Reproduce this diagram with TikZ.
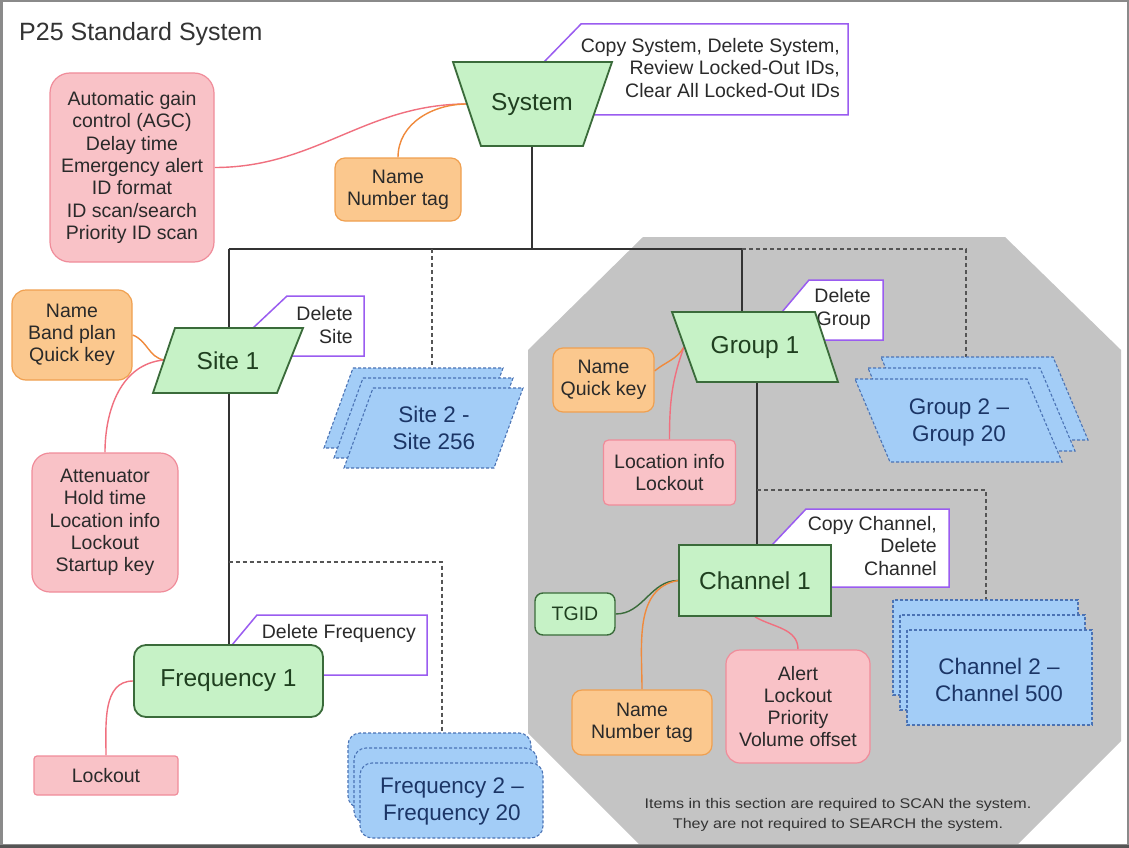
\documentclass[tikz,border=0pt]{standalone}
\usepackage{fontspec}
\setmainfont{Liberation Sans}
\newfontfamily\widefont[FakeStretch=1.15]{Liberation Sans}
\pgfdeclarelayer{back}
\pgfdeclarelayer{lines}
\pgfsetlayers{back,lines,main}
\definecolor{gfill}{HTML}{C6F2C6}
\definecolor{gline}{HTML}{3A6B3A}
\definecolor{gtext}{HTML}{1F3F1F}
\definecolor{pfill}{HTML}{F9C2C7}
\definecolor{pline}{HTML}{F08C9A}
\definecolor{plink}{HTML}{F0707F}
\definecolor{ofill}{HTML}{FBC88E}
\definecolor{oline}{HTML}{F0A050}
\definecolor{olink}{HTML}{F08A3C}
\definecolor{bfill}{HTML}{A3CDF7}
\definecolor{bline}{HTML}{4B73B5}
\definecolor{btext}{HTML}{1B3566}
\definecolor{purp}{HTML}{9A5CF0}
\definecolor{grayarea}{RGB}{196,196,196}
\definecolor{treec}{HTML}{333333}
\definecolor{dashc}{HTML}{555555}
\definecolor{txt}{HTML}{2A2A2A}
\definecolor{framec}{HTML}{8A8A8A}
\tikzset{
  attr/.style={draw, line width=1.2pt, inner sep=0pt, align=center, text=txt,
    font=\fontsize{19.5}{22.3}\selectfont},
  pinkbox/.style={attr, fill=pfill, draw=pline},
  orangebox/.style={attr, fill=ofill, draw=oline},
  greenshape/.style={draw=gline, fill=gfill, line width=1.8pt},
  greenbox/.style={draw=gline, fill=gfill, line width=1.8pt, inner sep=0pt, text=gtext},
  maintext/.style={font=\fontsize{24.5}{28}\selectfont, text=gtext, inner sep=0pt},
  stacktext/.style={font=\fontsize{22.5}{27}\selectfont, text=btext, align=center, inner sep=0pt},
  notetext/.style={font=\fontsize{19.5}{22.3}\selectfont, align=right, anchor=east, text=txt, inner sep=0pt},
  notebox/.style={draw=purp, fill=white, line width=1.5pt, line join=miter},
  bluestack/.style={draw=bline, fill=bfill, line width=1.1pt, dash pattern=on 3pt off 2pt},
  tree/.style={draw=treec, line width=2pt},
  branch/.style={draw=dashc, line width=1.2pt, dash pattern=on 4pt off 3pt},
  link/.style={line width=1.4pt},
}
\begin{document}
\begin{tikzpicture}[x=1pt,y=-1pt]
\useasboundingbox (0,0) rectangle (1129,848);

% ---------- background and gray section ----------
\begin{pgfonlayer}{back}
\fill[white] (0,0) rectangle (1129,848);
\fill[grayarea] (643,237) -- (1005,237) -- (1121,350) -- (1121,741) -- (1017,845)
  -- (640,845) -- (528,733) -- (528,350) -- cycle;
\end{pgfonlayer}

% ---------- title ----------
\node[anchor=west, inner sep=0pt, font=\fontsize{25}{30}\selectfont, text=treec] (title) at (19,34) {P25 Standard System};

% ---------- green main shapes ----------
\draw[greenshape] (453,62) -- (612,62) -- (583,146) -- (481,146) -- cycle;
\node[maintext] (system) at (532,104) {System};
\coordinate (sysL) at (467,104);
\coordinate (sysB) at (532,146);

\draw[greenshape] (175,328) -- (303,328) -- (277,393) -- (153,393) -- cycle;
\node[maintext] (site1) at (228,361) {Site 1};
\coordinate (siteT) at (228.5,328);
\coordinate (siteB) at (228.5,393);
\coordinate (siteL) at (164,360);

\draw[greenshape] (672,312) -- (815,312) -- (838,382) -- (697,382) -- cycle;
\node[maintext] (group1) at (755,347) {Group 1};
\coordinate (groupT) at (742,312);
\coordinate (groupB) at (757,382);
\coordinate (groupL) at (684,347);

\node[greenbox, minimum width=152pt, minimum height=71pt, font=\fontsize{24.5}{28}\selectfont] (channel1) at (755,580.5) {Channel 1};
\node[greenbox, rounded corners=12pt, minimum width=189pt, minimum height=72pt, font=\fontsize{24.5}{28}\selectfont] (freq1) at (228.5,681) {Frequency 1};
\node[greenbox, line width=1.4pt, rounded corners=8pt, minimum width=80pt, minimum height=42pt, font=\fontsize{19.5}{22}\selectfont] (tgid) at (575,614) {TGID};

% ---------- blue stacks ----------
\foreach \k in {0,1,2} {
  \draw[bluestack] ({353+10*\k},{368+10*\k}) -- ++(150,0) -- ++(-29,80) -- ++(-150,0) -- cycle;
}
\node[stacktext] (sitestack) at (434,428) {Site 2 -\\Site 256};
\coordinate (sitestackT) at (432,368);

\foreach \k in {0,1,2} {
  \draw[bluestack] ({881-13*\k},{357+11*\k}) -- ++(172,0) -- ++(35,83) -- ++(-172,0) -- cycle;
}
\node[stacktext] (groupstack) at (959,422) {Group 2 --\\Group 20};
\coordinate (groupstackT) at (966,357);

\foreach \k in {0,1,2} {
  \draw[bluestack] ({893+7*\k},{600+15*\k}) rectangle ++(185,95);
}
\node[stacktext] (chanstack) at (999,680) {Channel 2 --\\Channel 500};
\coordinate (chanstackT) at (986,600);

\foreach \k in {0,1,2} {
  \draw[bluestack, rounded corners=12pt] ({348+6*\k},{733+15*\k}) rectangle ++(183,75);
}
\node[stacktext] (freqstack) at (452,801) {Frequency 2 --\\Frequency 20};
\coordinate (freqstackT) at (442,733);

% ---------- attribute boxes ----------
\node[pinkbox, minimum width=164pt, minimum height=189pt, rounded corners=20pt] (sysopt) at (132,167.5)
  {Automatic gain\\control (AGC)\\Delay time\\Emergency alert\\ID format\\ID scan/search\\Priority ID scan};
\node[orangebox, minimum width=126pt, minimum height=63pt, rounded corners=10pt] (sysname) at (398,189.5) {Name\\Number tag};
\node[orangebox, minimum width=120pt, minimum height=90pt, rounded corners=14pt] (siteopt1) at (72,335) {Name\\Band plan\\Quick key};
\node[pinkbox, minimum width=146pt, minimum height=139pt, rounded corners=18pt] (siteopt2) at (105,522.5) {Attenuator\\Hold time\\Location info\\Lockout\\Startup key};
\node[pinkbox, minimum width=144pt, minimum height=39pt, rounded corners=3pt] (freqopt) at (106,775.5) {Lockout};
\node[orangebox, minimum width=101pt, minimum height=64pt, rounded corners=10pt] (groupopt1) at (603.5,380) {Name\\Quick key};
\node[pinkbox, minimum width=132pt, minimum height=65pt, rounded corners=5pt] (groupopt2) at (669.5,472.5) {Location info\\Lockout};
\node[orangebox, minimum width=140pt, minimum height=65pt, rounded corners=10pt] (chanopt1) at (642,722.5) {Name\\Number tag};
\node[pinkbox, minimum width=144pt, minimum height=113pt, rounded corners=14pt] (chanopt2) at (798,706.5) {Alert\\Lockout\\Priority\\Volume offset};

% ---------- bottom note ----------
\node[inner sep=0pt, align=center, text=treec, font=\widefont\fontsize{14}{20}\selectfont] (scannote) at (838,815)
  {Items in this section are required to SCAN the system.\\They are not required to SEARCH the system.};

% ---------- tree lines, connectors, notes ----------
\begin{pgfonlayer}{lines}
\coordinate (j0) at (532,249);
\coordinate (jL) at (228.5,249);
\coordinate (jR) at (742,249);
\coordinate (jS) at (432,249);
\coordinate (jC) at (757,490);
\coordinate (jF) at (228.5,562);
\draw[tree] (sysB) -- (j0);
\draw[tree] (jL) -- (jR);
\draw[tree] (jL) -- (siteT);
\draw[tree] (siteB) -- (freq1.north);
\draw[tree] (jR) -- (groupT);
\draw[tree] (groupB) -- (groupB |- channel1.north);
\draw[branch] (jS) -- (sitestackT);
\draw[branch] (jR) -- (jR -| groupstackT) -- (groupstackT);
\draw[branch] (jC) -- (jC -| chanstackT) -- (chanstackT);
\draw[branch] (jF) -- (jF -| freqstackT) -- (freqstackT);

\draw[link, draw=plink] (sysopt.east) to[out=0,in=180] (sysL);
\draw[link, draw=olink] (sysname.north) to[out=90,in=180] (sysL);
\draw[link, draw=olink] (siteopt1.east) to[out=-20,in=170] (siteL);
\draw[link, draw=plink] (siteopt2.north) to[out=90,in=185] (siteL);
\draw[link, draw=plink] (freqopt.north) to[out=90,in=180] (freq1.west);
\draw[link, draw=olink] (groupopt1.10) to[out=40,in=240] (groupL);
\draw[link, draw=plink] (groupopt2.north) to[out=90,in=250] (groupL);
\draw[link, draw=gline] (tgid.east) to[out=0,in=180] (channel1.west);
\draw[link, draw=olink] (chanopt1.north) to[out=90,in=190] (channel1.west);
\draw[link, draw=plink] (channel1.south) to[out=-30,in=90] (chanopt2.north);

\draw[notebox] (544,62) -- (581,24) -- (848,24) -- (848,115) -- (575,115) -- cycle;
\node[notetext] (sysnote) at (840,68) {Copy System, Delete System,\\Review Locked-Out IDs,\\Clear All Locked-Out IDs};
\draw[notebox] (253,328) -- (287,296) -- (364,296) -- (364,356) -- (285,356) -- cycle;
\node[notetext] (sitenote) at (353,325) {Delete\\Site};
\draw[notebox] (232,645) -- (257,615) -- (427,615) -- (427,675) -- (310,675) -- cycle;
\node[notetext] (freqnote) at (416,633) {Delete Frequency};
\draw[notebox] (782,312) -- (809,280) -- (883,280) -- (883,340) -- (815,340) -- cycle;
\node[notetext] (groupnote) at (871,309) {Delete\\Group};
\draw[notebox] (772,545) -- (806,509) -- (949,509) -- (949,587) -- (820,587) -- cycle;
\node[notetext] (channote) at (937,546) {Copy Channel,\\Delete\\Channel};
\end{pgfonlayer}

% ---------- frame ----------
\draw[framec, line width=2.5pt] (1.25,1.25) rectangle (1127.75,845.5);
\draw[dashc, line width=3pt] (0,846.5) -- (1129,846.5);
\end{tikzpicture}
\end{document}
